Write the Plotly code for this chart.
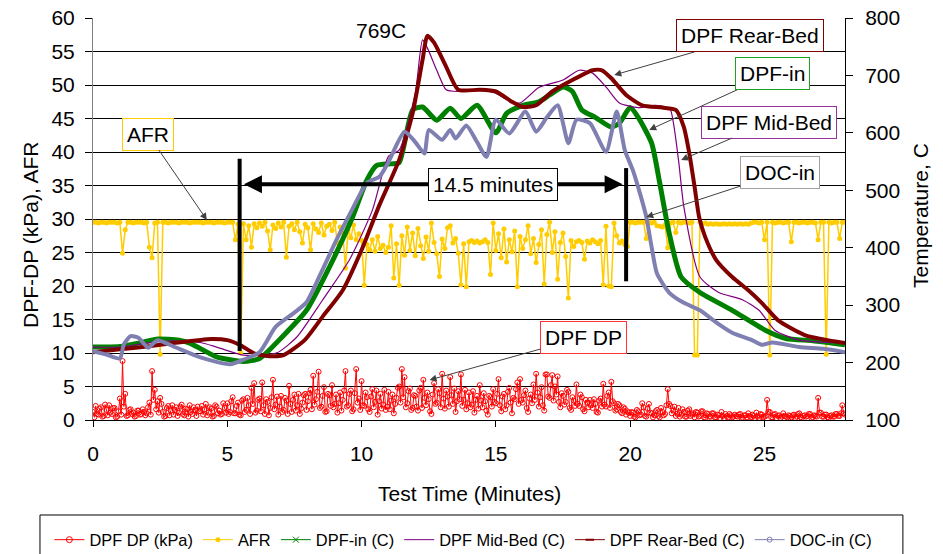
import plotly.graph_objects as go

# ---------------- data ----------------
# DPF differential pressure (kPa), logged every 0.05 min (one row = one minute)
dpf_dp = [
    1.2, 0.4, 2.1, 0.9, 0.8, 1.7, 1.9, 0.5, 0.6, 2.3, 1.5, 0.7, 2.2, 1.1, 0.9, 1.8, 1.8, 0.4, 0.5, 1.3,
    3.2, 0.8, 8.8, 2.0, 3.9, 0.6, 0.7, 1.5, 1.6, 0.9, 1.1, 0.5, 0.6, 1.4, 1.4, 0.8, 0.9, 1.6, 1.2, 0.7,
    1.0, 1.9, 2.6, 0.8, 7.3, 3.0, 4.5, 1.6, 2.8, 1.1, 3.3, 2.4, 1.2, 0.5, 0.6, 1.8, 2.1, 0.7, 1.4, 2.2,
    0.8, 1.5, 1.9, 0.6, 1.1, 2.0, 2.3, 0.9, 0.7, 1.7, 1.6, 0.5, 2.2, 1.2, 0.9, 1.9, 1.5, 0.6, 2.0, 1.3,
    1.3, 2.1, 0.8, 1.6, 2.4, 0.7, 1.1, 1.9, 1.7, 0.5, 0.6, 2.2, 2.0, 1.0, 1.4, 0.8, 0.9, 2.5, 1.8, 1.1,
    2.5, 0.9, 1.2, 2.8, 3.4, 1.0, 1.0, 2.1, 2.6, 0.8, 0.7, 2.9, 3.1, 1.2, 1.5, 3.3, 2.2, 0.9, 4.8, 2.4,
    5.5, 1.1, 1.4, 3.0, 3.2, 1.3, 5.6, 2.2, 0.9, 3.1, 2.7, 0.7, 1.8, 3.4, 6.0, 1.6, 2.3, 3.5, 0.8, 2.0,
    3.6, 1.2, 1.5, 3.3, 2.9, 0.9, 5.1, 2.4, 1.2, 3.0, 3.8, 1.4, 2.2, 3.9, 0.9, 1.7, 2.6, 3.7, 3.9, 1.5,
    2.8, 4.0, 4.5, 1.6, 6.6, 2.3, 3.1, 4.2, 7.2, 1.8, 2.0, 3.6, 4.9, 1.2, 1.3, 3.9, 3.7, 2.1, 5.2, 1.9,
    2.4, 3.8, 1.1, 2.5, 4.1, 1.4, 3.0, 4.4, 7.3, 2.0, 2.2, 3.9, 4.4, 1.3, 1.6, 4.0, 7.6, 2.6, 3.2, 1.5,
    5.8, 2.2, 2.1, 4.1, 3.4, 1.6, 1.2, 3.5, 4.6, 1.9, 2.7, 4.4, 0.8, 2.8, 3.9, 1.7, 2.3, 4.5, 1.5, 2.0,
    4.2, 1.6, 2.9, 3.8, 1.0, 2.4, 3.3, 4.8, 5.0, 2.6, 7.6, 3.4, 6.4, 1.9, 2.5, 4.3, 4.7, 1.5, 1.8, 3.7,
    3.6, 2.0, 1.4, 4.4, 4.8, 1.8, 6.0, 3.3, 2.2, 4.1, 3.1, 1.3, 0.9, 3.8, 5.5, 2.4, 2.6, 4.6, 4.0, 1.9,
    6.9, 3.2, 1.7, 4.4, 3.5, 2.0, 6.4, 3.7, 2.4, 4.7, 1.2, 2.8, 4.3, 3.1, 6.8, 2.1, 3.0, 4.5, 1.6, 2.5,
    4.1, 1.9, 2.3, 4.3, 1.1, 3.0, 3.6, 1.7, 5.2, 2.9, 1.9, 4.0, 2.8, 1.4, 0.8, 3.6, 3.4, 2.0, 4.6, 2.7,
    2.5, 3.9, 6.1, 2.2, 1.3, 3.5, 3.9, 1.6, 2.2, 4.2, 4.8, 2.6, 1.0, 3.3, 3.1, 4.6, 5.6, 2.4, 6.1, 3.0,
    2.6, 3.7, 4.4, 1.8, 1.2, 3.2, 3.8, 2.5, 5.3, 3.0, 6.9, 4.1, 2.0, 3.4, 4.9, 2.2, 1.4, 6.8, 6.8, 3.5,
    3.3, 5.2, 6.7, 2.9, 5.0, 3.8, 6.5, 2.7, 1.9, 4.0, 3.6, 2.3, 2.7, 4.5, 4.2, 1.8, 1.5, 3.4, 2.9, 2.1,
    5.3, 2.4, 2.1, 3.8, 3.4, 1.6, 1.3, 3.0, 2.6, 1.9, 3.0, 2.2, 1.8, 3.1, 2.4, 1.2, 1.1, 2.9, 3.2, 2.0,
    5.4, 2.3, 2.0, 3.6, 4.1, 1.8, 5.7, 2.8, 2.5, 1.4, 1.6, 2.4, 2.2, 1.2, 1.0, 1.9, 1.7, 0.8, 1.3, 1.1,
    0.6, 1.2, 1.1, 0.5, 0.4, 1.5, 1.3, 0.7, 0.8, 2.5, 1.9, 0.6, 0.5, 1.7, 2.4, 1.1, 1.0, 0.4, 0.7, 1.3,
    1.5, 0.6, 0.4, 1.8, 1.2, 0.7, 0.9, 2.2, 4.6, 2.4, 2.1, 1.0, 1.4, 2.0, 0.6, 0.9, 1.8, 0.5, 0.8, 1.6,
    1.2, 0.5, 0.5, 1.4, 1.6, 0.6, 0.8, 1.0, 0.4, 1.2, 1.1, 0.5, 0.6, 1.3, 1.3, 0.4, 0.3, 1.0, 0.9, 0.5,
    0.5, 1.0, 1.0, 0.4, 0.4, 0.8, 0.7, 0.3, 1.2, 0.6, 0.3, 0.9, 0.6, 0.4, 0.9, 0.7, 0.4, 0.5, 0.8, 0.6,
    0.5, 0.8, 0.9, 0.3, 0.3, 0.7, 0.7, 0.4, 1.0, 0.6, 0.4, 0.8, 0.6, 0.3, 1.1, 0.5, 0.3, 0.9, 0.8, 0.4,
    0.5, 0.6, 3.0, 1.2, 1.2, 0.4, 0.4, 0.8, 0.9, 0.3, 0.6, 0.7, 0.3, 0.5, 1.0, 0.6, 0.5, 0.4, 0.7, 0.6,
    0.4, 0.7, 0.8, 0.3, 0.5, 0.9, 1.0, 0.4, 0.3, 0.6, 0.7, 0.5, 0.6, 0.9, 0.9, 0.3, 0.4, 0.7, 0.6, 0.5,
    3.3, 1.1, 1.1, 0.5, 0.5, 0.8, 0.8, 0.4, 0.3, 0.6, 0.7, 0.5, 0.5, 0.9, 0.9, 0.6, 0.6, 1.0, 2.2, 1.0,
    0.8,
]
dp_time = [round(i * 0.05, 2) for i in range(len(dpf_dp))]

# air/fuel ratio, logged every 0.1 min (one row = two minutes)
afr = [
    29.5, 29.5, 29.4, 29.5, 29.5, 29.4, 29.5, 29.5, 29.5, 29.4, 29.5, 24.9, 28.4, 29.5, 29.5, 29.4, 29.5, 29.5, 29.5, 29.4,
    29.5, 25.8, 24.2, 29.4, 29.5, 9.8, 29.5, 29.5, 29.4, 29.5, 29.5, 29.5, 29.4, 29.5, 29.5, 29.5, 29.4, 29.5, 29.5, 29.5,
    29.5, 29.4, 29.5, 29.5, 29.5, 29.4, 29.5, 29.5, 29.5, 29.4, 29.5, 29.5, 29.5, 26.9, 29.2, 10.0, 29.3, 26.9, 29.0, 25.8,
    29.3, 28.7, 29.4, 28.9, 29.5, 28.2, 25.4, 29.1, 28.6, 29.4, 28.8, 29.5, 24.3, 28.9, 29.3, 28.4, 29.5, 28.1, 26.4, 29.2,
    28.7, 25.4, 29.3, 28.5, 28.0, 29.4, 27.6, 28.9, 29.2, 28.3, 29.5, 26.4, 28.8, 27.9, 22.7, 28.4, 27.2, 29.1, 26.9, 27.8,
    26.8, 20.1, 26.2, 25.4, 26.9, 25.2, 27.4, 25.6, 26.1, 25.0, 25.8, 29.0, 21.2, 26.3, 20.1, 27.5, 24.6, 28.8, 25.3, 27.9,
    24.5, 28.6, 26.0, 24.1, 27.3, 25.2, 29.4, 26.5, 24.8, 21.4, 27.0, 25.6, 28.7, 29.0, 26.4, 27.1, 24.9, 20.2, 26.3, 19.9,
    26.6, 26.8, 26.5, 26.7, 26.4, 26.6, 26.9, 26.5, 21.7, 29.4, 25.3, 27.8, 24.2, 28.5, 23.6, 26.9, 25.1, 28.2, 19.9, 27.4,
    25.6, 26.9, 29.0, 24.8, 27.1, 23.5, 26.2, 28.4, 20.3, 27.7, 29.5, 25.0, 28.1, 21.0, 26.5, 27.9, 24.4, 18.2, 26.8, 25.9,
    26.6, 26.8, 26.5, 24.0, 26.7, 26.4, 26.9, 26.6, 26.3, 26.8, 20.2, 28.9, 20.0, 19.9, 29.4, 27.5, 26.4, 26.7, 26.2, 25.9,
    29.5, 29.5, 29.4, 29.5, 29.5, 29.5, 27.1, 29.5, 29.4, 29.5, 29.0, 28.9, 28.8, 29.1, 25.7, 29.4, 29.5, 28.0, 29.5, 29.4,
    29.5, 29.5, 29.4, 29.5, 9.7, 9.7, 29.5, 29.3, 29.4, 29.2, 29.3, 29.2, 29.3, 29.2, 29.2, 29.3, 29.2, 29.3, 29.2, 29.3,
    29.2, 29.3, 29.2, 29.3, 29.2, 29.4, 29.5, 29.5, 29.4, 29.5, 26.9, 29.5, 9.7, 29.5, 29.4, 29.5, 29.5, 29.4, 29.5, 29.5,
    26.6, 29.5, 29.5, 29.4, 29.5, 29.5, 29.4, 29.5, 29.5, 29.4, 26.9, 29.5, 29.5, 9.8, 29.5, 29.4, 29.5, 29.5, 27.1, 29.5, 29.5,
]
afr_time = [round(i * 0.1, 1) for i in range(len(afr))]

# temperature channels (deg C), read at the turning points of each curve
dpfin_t = [0, 1.0, 2.0, 2.4, 3.2, 3.6, 4.6, 5.6, 6.2, 7.05, 7.95, 8.8, 9.67, 10.2, 10.55, 11.1, 11.4, 11.9,
           12.27, 12.8, 13.3, 13.7, 14.3, 15.0, 15.4, 16.0, 16.6, 17.0, 17.5, 17.85, 18.2, 18.7, 19.3, 19.6,
           20.0, 20.3, 20.8, 21.1, 21.45, 21.9, 22.6, 23.8, 25.05, 25.8, 26.8, 28.0]
dpfin_T = [227, 228, 237, 241, 239, 234, 210, 202, 207, 245, 291, 366, 454, 518, 543, 546, 548, 640,
           645, 622, 643, 625, 648, 600, 634, 648, 654, 666, 680, 672, 640, 627, 610, 617,
           644, 627, 582, 513, 426, 349, 322, 291, 256, 242, 238, 231]

mid_t = [0, 1.0, 2.0, 3.0, 4.0, 4.6, 5.6, 6.85, 7.6, 8.55, 9.55, 10.4, 11.0, 11.4, 12.0, 12.27, 12.45,
         12.8, 13.15, 13.6, 14.4, 15.0, 15.4, 15.9, 16.6, 17.5, 18.1, 18.6, 19.1, 19.6, 20.3, 20.95,
         21.3, 21.5, 21.8, 22.0, 22.6, 23.3, 24.2, 24.8, 25.4, 26.3, 28.0]
mid_T = [227, 227, 234, 238, 235, 227, 213, 217, 245, 309, 379, 465, 559, 570, 669, 762, 748,
         709, 675, 672, 675, 669, 658, 652, 679, 692, 709, 704, 680, 652, 644, 648,
         645, 640, 553, 471, 349, 322, 309, 291, 256, 239, 234]

rear_t = [0, 1.0, 2.0, 3.0, 4.4, 5.0, 5.5, 6.0, 6.6, 7.1, 7.9, 8.55, 9.3, 10.0, 10.67, 11.4, 11.9, 12.27,
          12.45, 12.7, 13.15, 13.6, 14.4, 15.0, 15.6, 16.0, 16.5, 17.1, 17.85, 18.6, 18.95, 19.3, 19.85,
          20.45, 21.2, 21.7, 22.0, 22.2, 22.4, 22.57, 22.8, 23.2, 23.8, 24.4, 24.9, 25.5, 26.5, 28.0]
rear_T = [218, 223, 228, 234, 241, 239, 230, 216, 211, 213, 240, 280, 326, 396, 475, 553, 634, 727,
          769, 757, 715, 675, 675, 672, 654, 645, 648, 672, 692, 709, 709, 695, 666,
          648, 644, 640, 610, 565, 506, 453, 418, 379, 349, 326, 304, 274, 248, 234]

docin_t = [0, 0.5, 1.0, 1.15, 1.4, 1.7, 2.05, 2.4, 3.0, 4.0, 5.1, 5.6, 6.2, 6.8, 7.5, 7.95, 8.5, 9.07,
           9.6, 10.2, 10.67, 11.0, 11.6, 12.0, 12.34, 12.5, 13.0, 13.3, 13.5, 13.9, 14.3, 14.65, 15.0,
           15.5, 16.1, 16.5, 16.9, 17.3, 17.7, 18.0, 18.5, 19.1, 19.5, 19.8, 20.1, 20.4, 20.6, 20.8,
           21.0, 21.45, 22.0, 22.6, 23.2, 23.8, 24.5, 24.9, 25.3, 26.3, 27.2, 28.0]
docin_T = [220, 214, 207, 232, 246, 243, 226, 239, 228, 209, 197, 205, 218, 262, 287, 305, 357, 414,
           462, 513, 524, 549, 602, 584, 564, 605, 588, 605, 590, 613, 584, 558, 623,
           599, 637, 602, 627, 648, 582, 623, 617, 567, 637, 570, 535, 489, 454, 401,
           355, 322, 304, 291, 270, 252, 240, 231, 235, 227, 224, 218]

x_ticks = [0, 5, 10, 15, 20, 25]
y_ticks = [0, 5, 10, 15, 20, 25, 30, 35, 40, 45, 50, 55, 60]
y2_ticks = [100, 200, 300, 400, 500, 600, 700, 800]

# ---------------- styles ----------------
FONT = "Liberation Sans, Arial, sans-serif"
C_DP, C_AFR, C_IN, C_MID, C_REAR, C_DOC = "#FF0000", "#FFCC00", "#008000", "#800080", "#800000", "#7F7FB2"

fig = go.Figure()

fig.add_trace(go.Scatter(x=dp_time, y=dpf_dp, mode="lines+markers", legendgroup="dp", showlegend=False,
                         line=dict(color=C_DP, width=1),
                         marker=dict(symbol="circle-open", size=5, color=C_DP, line=dict(width=1))))
fig.add_trace(go.Scatter(x=afr_time, y=afr, mode="lines+markers", legendgroup="afr", showlegend=False,
                         line=dict(color=C_AFR, width=1.5),
                         marker=dict(symbol="circle", size=5, color=C_AFR)))
fig.add_trace(go.Scatter(x=dpfin_t, y=dpfin_T, yaxis="y2", mode="lines", legendgroup="in", showlegend=False,
                         line=dict(color=C_IN, width=5, shape="spline", smoothing=0.6)))
fig.add_trace(go.Scatter(x=mid_t, y=mid_T, yaxis="y2", mode="lines", legendgroup="mid", showlegend=False,
                         line=dict(color=C_MID, width=1.2, shape="spline", smoothing=0.6)))
fig.add_trace(go.Scatter(x=rear_t, y=rear_T, yaxis="y2", mode="lines", legendgroup="rear", showlegend=False,
                         line=dict(color=C_REAR, width=4, shape="spline", smoothing=0.6)))
fig.add_trace(go.Scatter(x=docin_t, y=docin_T, yaxis="y2", mode="lines", legendgroup="doc", showlegend=False,
                         line=dict(color=C_DOC, width=4, shape="spline", smoothing=0.6)))

# legend entries (thin styles as in the reference legend)
legend_specs = [
    ("DPF DP (kPa)", "dp", C_DP, "lines+markers", dict(symbol="circle-open", size=6, color=C_DP, line=dict(width=1))),
    ("AFR", "afr", C_AFR, "lines+markers", dict(symbol="circle", size=5, color=C_AFR)),
    ("DPF-in (C)", "in", C_IN, "lines+markers", dict(symbol="x-thin-open", size=6, color=C_IN, line=dict(width=1, color=C_IN))),
    ("DPF Mid-Bed (C)", "mid", C_MID, "lines", None),
    ("DPF Rear-Bed (C)", "rear", C_REAR, "lines+markers", dict(symbol="line-ew-open", size=6, color=C_REAR, line=dict(width=2, color=C_REAR))),
    ("DOC-in (C)", "doc", C_DOC, "lines+markers", dict(symbol="circle-open", size=5, color=C_DOC, line=dict(width=1))),
]
for name, grp, col, mode, mk in legend_specs:
    kw = dict(x=[None], y=[None], name=name, legendgroup=grp, mode=mode, line=dict(color=col, width=1))
    if mk:
        kw["marker"] = mk
    fig.add_trace(go.Scatter(**kw))

axis_font = dict(family=FONT, size=21, color="black")

fig.update_layout(
    width=943, height=554,
    margin=dict(l=93, r=98, t=18, b=134, autoexpand=False),
    paper_bgcolor="white", plot_bgcolor="white",
    font=dict(family=FONT, color="black"),
    xaxis=dict(range=[0, 28], tickvals=x_ticks, showgrid=False, zeroline=False,
               showline=True, linecolor="black", linewidth=1,
               ticks="outside", ticklen=6, tickcolor="black",
               tickfont=axis_font, ticklabelstandoff=9, automargin=False),
    yaxis=dict(range=[0, 60], tickvals=y_ticks, showgrid=True, gridcolor="black", gridwidth=1,
               zeroline=False, showline=True, linecolor="#808080", linewidth=1,
               ticks="outside", ticklen=7, tickcolor="black",
               tickfont=axis_font, ticklabelstandoff=6, automargin=False),
    yaxis2=dict(range=[100, 800], tickvals=y2_ticks, overlaying="y", side="right",
                showgrid=False, zeroline=False, showline=True, linecolor="black", linewidth=1,
                ticks="outside", ticklen=7, tickcolor="black",
                tickfont=axis_font, ticklabelstandoff=8, automargin=False),
    legend=dict(orientation="h", x=-0.058, xanchor="left", y=-0.2985, yanchor="middle",
                font=dict(family=FONT, size=16.4, color="black"), bgcolor="rgba(0,0,0,0)",
                borderwidth=0, itemwidth=30, tracegroupgap=0),
)

# legend frame
fig.add_shape(type="rect", xref="paper", yref="paper", x0=-0.0705, x1=1.077, y0=-0.2363, y1=-0.40,
              line=dict(color="black", width=1), fillcolor="rgba(0,0,0,0)", layer="below")

# axis titles
fig.add_annotation(text="Test Time (Minutes)", xref="paper", yref="paper", x=0.501, y=-0.184,
                   showarrow=False, font=axis_font, xanchor="center", yanchor="middle")
fig.add_annotation(text="DPF-DP (kPa), AFR", xref="paper", yref="paper", x=-0.084, y=0.46,
                   showarrow=False, font=axis_font, textangle=-90, xanchor="center", yanchor="middle")
fig.add_annotation(text="Temperature, C", xref="paper", yref="paper", x=1.101, y=0.51,
                   showarrow=False, font=axis_font, textangle=-90, xanchor="center", yanchor="middle")

# 14.5 minute span marker
fig.add_shape(type="line", xref="x", yref="y", x0=5.46, x1=5.46, y0=10.3, y1=39.0,
              line=dict(color="black", width=4), layer="above")
fig.add_shape(type="line", xref="x", yref="y", x0=19.85, x1=19.85, y0=20.7, y1=37.6,
              line=dict(color="black", width=4), layer="above")
for tip in (5.62, 19.72):
    fig.add_annotation(x=tip, y=35.2, ax=14.9, ay=35.2, xref="x", yref="y", axref="x", ayref="y",
                       text="", showarrow=True, arrowhead=2, arrowsize=0.9, arrowwidth=4, arrowcolor="black")
fig.add_annotation(x=14.9, y=35.2, xref="x", yref="y", text="14.5 minutes", showarrow=False,
                   font=axis_font, bgcolor="white", bordercolor="black", borderwidth=1, borderpad=4)

fig.add_annotation(x=10.74, y=58.2, xref="x", yref="y", text="769C", showarrow=False, font=axis_font)

# callouts: (text, border colour, arrow target t, target left-axis value, ax, ay)
callouts = [
    ("AFR", "#FFCC00", 4.24, 29.85, -59, -86),
    ("DPF Rear-Bed", "#800000", 19.41, 51.5, 136, -39),
    ("DPF-in", "#22A022", 20.71, 43.3, 123, -56),
    ("DPF Mid-Bed", "#993399", 21.9, 38.8, 88, -38),
    ("DOC-in", "#A0A0A0", 20.6, 30.3, 134, -44),
    ("DPF DP", "#FF3333", 12.53, 5.97, 154, -43),
]
for txt, bc, cx, cy, ax, ay in callouts:
    fig.add_annotation(x=cx, y=cy, xref="x", yref="y", ax=ax, ay=ay, text=txt, showarrow=True,
                       arrowhead=2, arrowsize=1.4, arrowwidth=1, arrowcolor="#404040",
                       font=axis_font, bgcolor="white", bordercolor=bc, borderwidth=1, borderpad=4)

fig.write_html("out.html")
